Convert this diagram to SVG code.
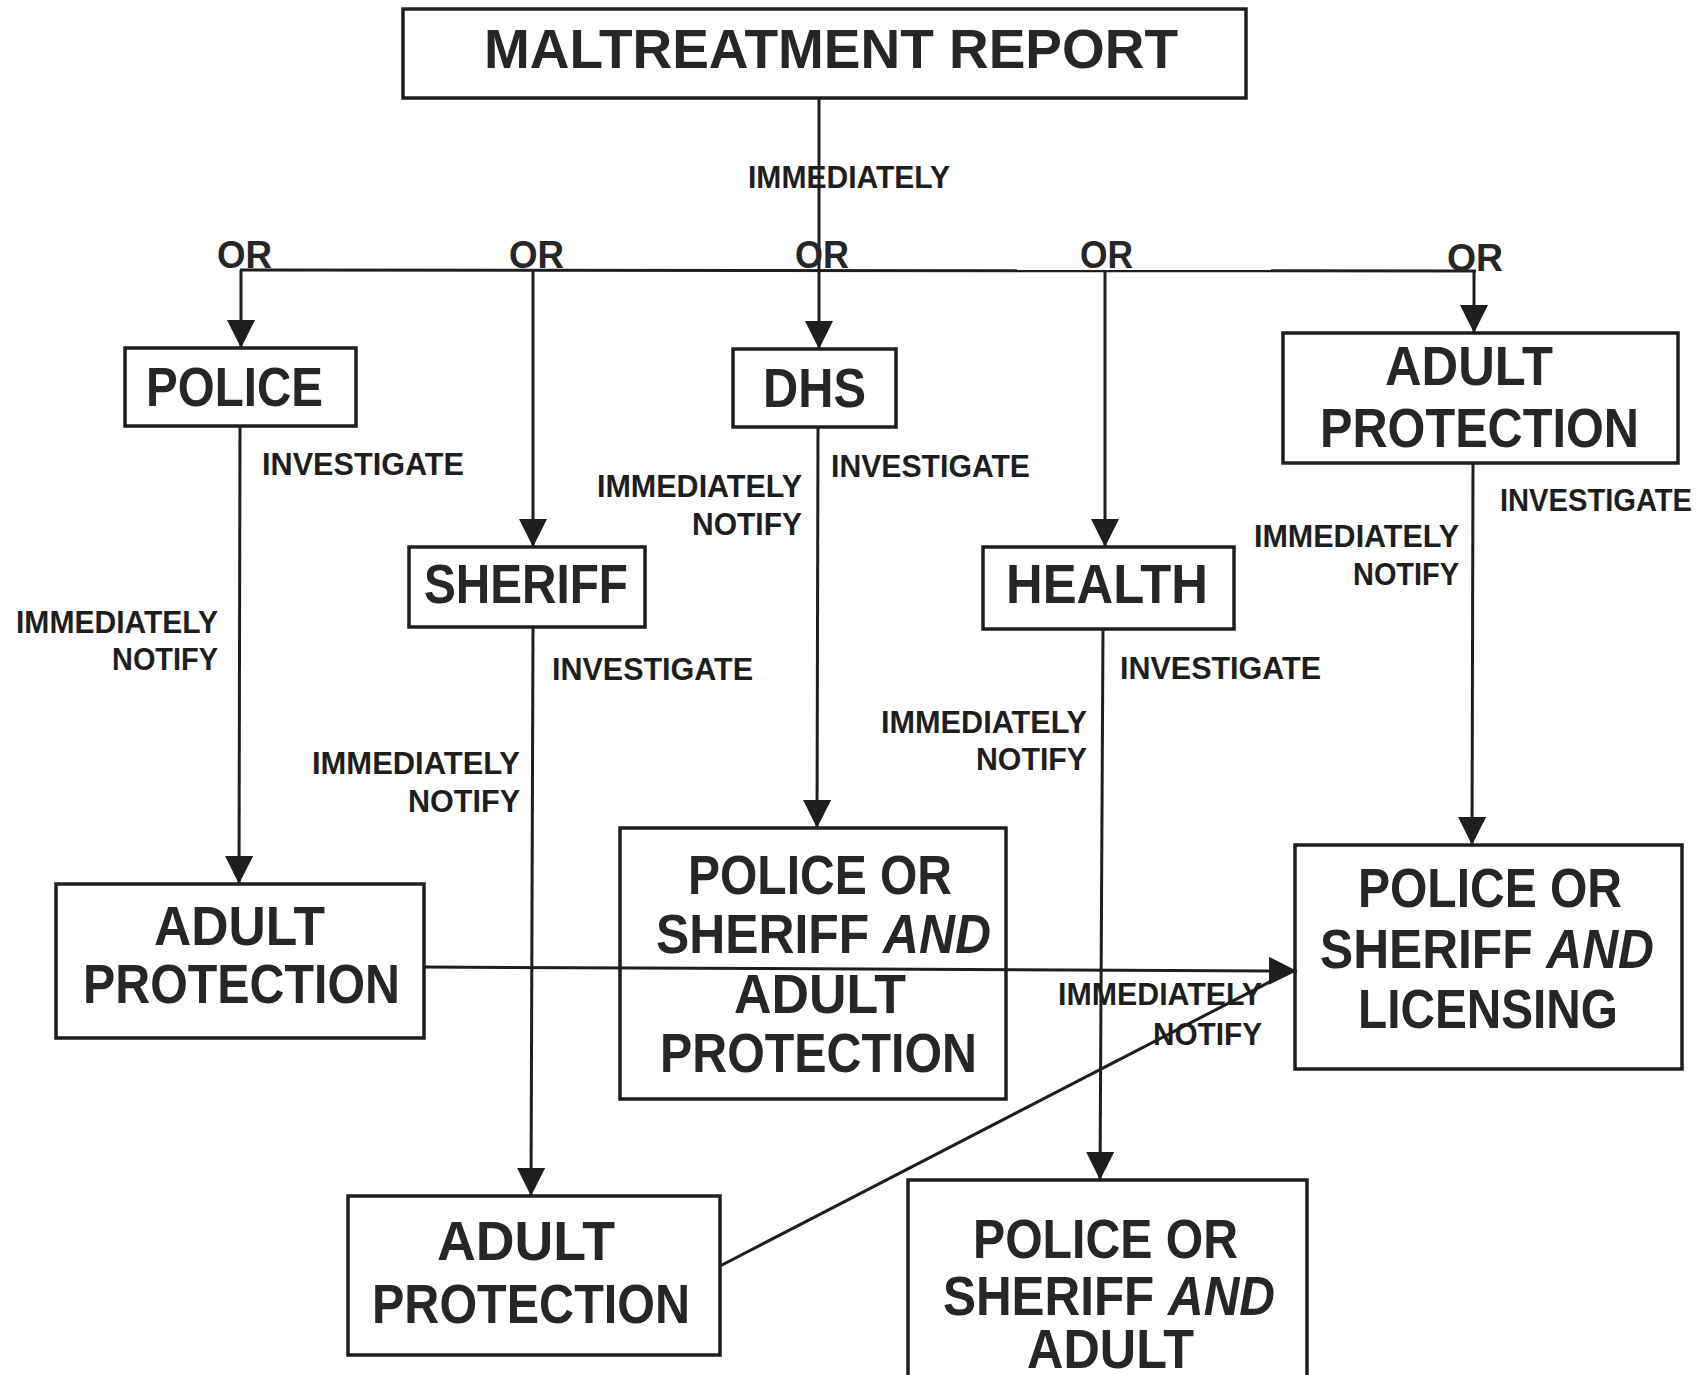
<svg xmlns="http://www.w3.org/2000/svg" width="1705" height="1375" viewBox="0 0 1705 1375">
<style>
.box{fill:#fff;stroke:#1e1e1e;stroke-width:3.5}
.n{font-family:"Liberation Sans",Arial,sans-serif;font-weight:700;font-size:56px;fill:#262626}
.l{font-family:"Liberation Sans",Arial,sans-serif;font-weight:700;font-size:32px;fill:#1e1e1e}
.or{font-family:"Liberation Sans",Arial,sans-serif;font-weight:700;font-size:39px;fill:#262626}
.c{stroke:#1e1e1e;stroke-width:3;fill:none}
.a{marker-end:url(#arr)}
.i{font-style:italic}
</style>
<defs>
<marker id="arr" viewBox="0 0 28 28" refX="28" refY="14" markerWidth="28" markerHeight="28" markerUnits="userSpaceOnUse" orient="auto">
<path d="M0,0 L28,14 L0,28 z" fill="#1e1e1e"/>
</marker>
</defs>
<rect width="1705" height="1375" fill="#fff"/>

<g id="maltreatment-report">
<rect class="box" x="403" y="9" width="843" height="89"/>
<text class="n" x="484" y="68" font-size="59" textLength="694" lengthAdjust="spacingAndGlyphs">MALTREATMENT REPORT</text>
</g>
<g id="police">
<rect class="box" x="125" y="348" width="231" height="78"/>
<text class="n" x="146" y="406" font-size="57" textLength="177" lengthAdjust="spacingAndGlyphs">POLICE</text>
</g>
<g id="dhs">
<rect class="box" x="733" y="349" width="163" height="78"/>
<text class="n" x="763" y="407" textLength="103" lengthAdjust="spacingAndGlyphs">DHS</text>
</g>
<g id="sheriff">
<rect class="box" x="409" y="547" width="236" height="80"/>
<text class="n" x="424" y="603" font-size="57" textLength="204" lengthAdjust="spacingAndGlyphs">SHERIFF</text>
</g>
<g id="health">
<rect class="box" x="983" y="547" width="251" height="82"/>
<text class="n" x="1006" y="603" font-size="57" textLength="202" lengthAdjust="spacingAndGlyphs">HEALTH</text>
</g>
<g id="adult-protection-top">
<rect class="box" x="1283" y="333" width="395" height="130"/>
<text class="n" x="1385" y="385" font-size="52" textLength="168" lengthAdjust="spacingAndGlyphs">ADULT</text>
<text class="n" x="1320" y="447" font-size="52" textLength="319" lengthAdjust="spacingAndGlyphs">PROTECTION</text>
</g>
<g id="adult-protection-left">
<rect class="box" x="56" y="884" width="368" height="154"/>
<text class="n" x="154" y="945" font-size="53" textLength="171" lengthAdjust="spacingAndGlyphs">ADULT</text>
<text class="n" x="83" y="1003" font-size="53" textLength="317" lengthAdjust="spacingAndGlyphs">PROTECTION</text>
</g>
<g id="police-sheriff-adult-center">
<rect class="box" x="620" y="828" width="386" height="271"/>
<text class="n" x="688" y="894" font-size="50" textLength="264" lengthAdjust="spacingAndGlyphs">POLICE OR</text>
<text class="n" x="656" y="953" font-size="50" textLength="335" lengthAdjust="spacingAndGlyphs">SHERIFF <tspan class="i">AND</tspan></text>
<text class="n" x="734" y="1013" font-size="50" textLength="172" lengthAdjust="spacingAndGlyphs">ADULT</text>
<text class="n" x="660" y="1072" font-size="50" textLength="317" lengthAdjust="spacingAndGlyphs">PROTECTION</text>
</g>
<g id="police-sheriff-licensing">
<rect class="box" x="1295" y="845" width="387" height="224"/>
<text class="n" x="1358" y="907" font-size="50" textLength="264" lengthAdjust="spacingAndGlyphs">POLICE OR</text>
<text class="n" x="1320" y="968" font-size="50" textLength="334" lengthAdjust="spacingAndGlyphs">SHERIFF <tspan class="i">AND</tspan></text>
<text class="n" x="1358" y="1028" font-size="50" textLength="260" lengthAdjust="spacingAndGlyphs">LICENSING</text>
</g>
<g id="adult-protection-bottom">
<rect class="box" x="348" y="1196" width="372" height="159"/>
<text class="n" x="437" y="1260" font-size="53" textLength="178" lengthAdjust="spacingAndGlyphs">ADULT</text>
<text class="n" x="372" y="1323" font-size="53" textLength="318" lengthAdjust="spacingAndGlyphs">PROTECTION</text>
</g>
<g id="police-sheriff-adult-bottom">
<rect class="box" x="908" y="1180" width="399" height="240"/>
<text class="n" x="973" y="1258" font-size="50" textLength="265" lengthAdjust="spacingAndGlyphs">POLICE OR</text>
<text class="n" x="943" y="1315" font-size="50" textLength="332" lengthAdjust="spacingAndGlyphs">SHERIFF <tspan class="i">AND</tspan></text>
<text class="n" x="1027" y="1368" font-size="50" textLength="167" lengthAdjust="spacingAndGlyphs">ADULT</text>
</g>

<g id="connectors">
<line class="c a" x1="819" y1="98" x2="819" y2="349"/>
<line class="c" x1="240" y1="270" x2="1476" y2="271"/>
<line class="c a" x1="241" y1="270" x2="241" y2="348"/>
<line class="c a" x1="533" y1="270" x2="533" y2="547"/>
<line class="c a" x1="1105" y1="271" x2="1105" y2="547"/>
<line class="c a" x1="1474" y1="271" x2="1474" y2="333"/>
<line class="c a" x1="240" y1="426" x2="239" y2="884"/>
<line class="c a" x1="533" y1="627" x2="531" y2="1196"/>
<line class="c a" x1="818" y1="427" x2="817" y2="828"/>
<line class="c a" x1="1103" y1="629" x2="1100" y2="1180"/>
<line class="c a" x1="1473" y1="463" x2="1472" y2="845"/>
<line class="c a" x1="424" y1="967" x2="1297" y2="971"/>
<line class="c" x1="720" y1="1266" x2="1285" y2="974"/>
</g>

<g id="labels">
<text class="l" x="748" y="188" textLength="202" lengthAdjust="spacingAndGlyphs">IMMEDIATELY</text>
<text class="or" x="217" y="268" textLength="55" lengthAdjust="spacingAndGlyphs">OR</text>
<text class="or" x="509" y="268" textLength="55" lengthAdjust="spacingAndGlyphs">OR</text>
<text class="or" x="795" y="268" textLength="54" lengthAdjust="spacingAndGlyphs">OR</text>
<text class="or" x="1080" y="268" textLength="53" lengthAdjust="spacingAndGlyphs">OR</text>
<text class="or" x="1447" y="271" textLength="56" lengthAdjust="spacingAndGlyphs">OR</text>
<text class="l" x="262" y="475" textLength="202" lengthAdjust="spacingAndGlyphs">INVESTIGATE</text>
<text class="l" x="16" y="633" textLength="202" lengthAdjust="spacingAndGlyphs">IMMEDIATELY</text>
<text class="l" x="112" y="670" textLength="106" lengthAdjust="spacingAndGlyphs">NOTIFY</text>
<text class="l" x="552" y="680" textLength="201" lengthAdjust="spacingAndGlyphs">INVESTIGATE</text>
<text class="l" x="312" y="774" textLength="208" lengthAdjust="spacingAndGlyphs">IMMEDIATELY</text>
<text class="l" x="408" y="812" textLength="112" lengthAdjust="spacingAndGlyphs">NOTIFY</text>
<text class="l" x="831" y="477" textLength="199" lengthAdjust="spacingAndGlyphs">INVESTIGATE</text>
<text class="l" x="597" y="497" textLength="205" lengthAdjust="spacingAndGlyphs">IMMEDIATELY</text>
<text class="l" x="692" y="535" textLength="110" lengthAdjust="spacingAndGlyphs">NOTIFY</text>
<text class="l" x="1120" y="679" textLength="201" lengthAdjust="spacingAndGlyphs">INVESTIGATE</text>
<text class="l" x="881" y="733" textLength="206" lengthAdjust="spacingAndGlyphs">IMMEDIATELY</text>
<text class="l" x="976" y="770" textLength="111" lengthAdjust="spacingAndGlyphs">NOTIFY</text>
<text class="l" x="1500" y="511" textLength="192" lengthAdjust="spacingAndGlyphs">INVESTIGATE</text>
<text class="l" x="1254" y="547" textLength="205" lengthAdjust="spacingAndGlyphs">IMMEDIATELY</text>
<text class="l" x="1353" y="585" textLength="106" lengthAdjust="spacingAndGlyphs">NOTIFY</text>
<text class="l" x="1058" y="1005" textLength="204" lengthAdjust="spacingAndGlyphs">IMMEDIATELY</text>
<text class="l" x="1153" y="1045" textLength="109" lengthAdjust="spacingAndGlyphs">NOTIFY</text>
</g>
</svg>
